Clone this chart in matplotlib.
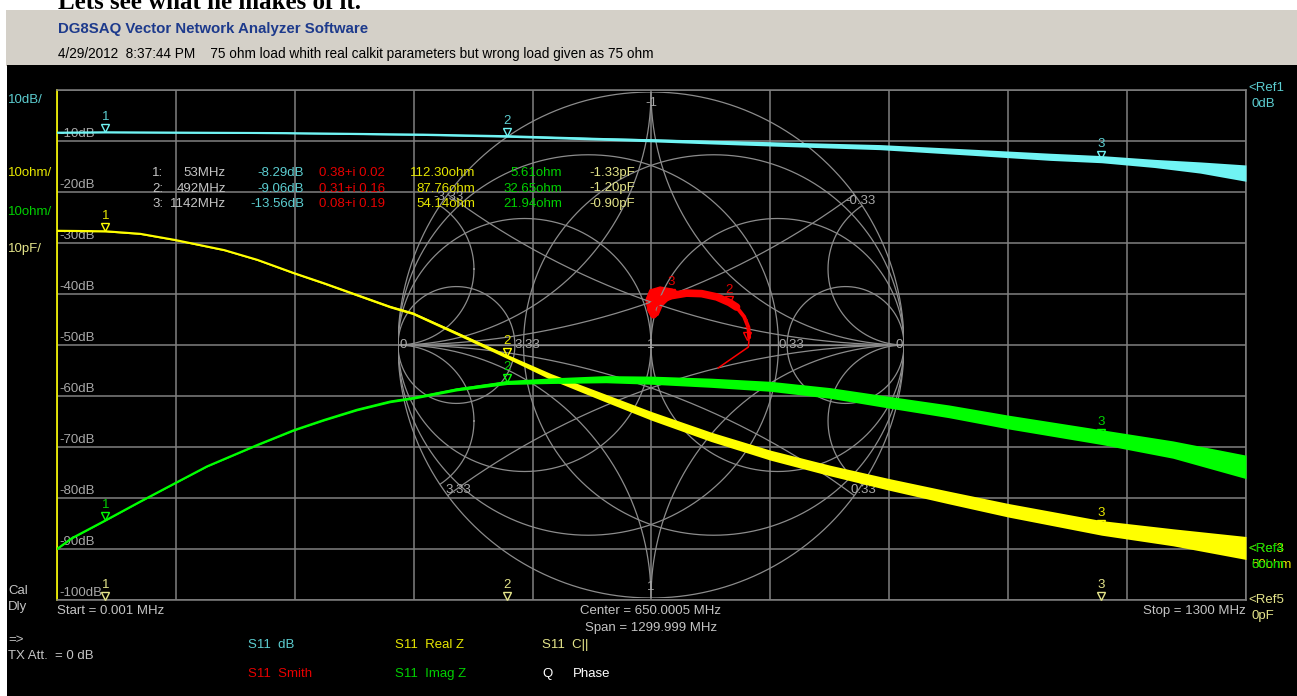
import numpy as np
import matplotlib.pyplot as plt
from matplotlib.patches import Rectangle, Circle, Polygon
from matplotlib.transforms import offset_copy

W, H = 1297, 696
plt.rcParams['font.family'] = ['Liberation Sans', 'DejaVu Sans']

# ---------------------------------------------------------------
# Sweep and traces (S11 of the 75 ohm load)
# ---------------------------------------------------------------
F_START, F_STOP = 0.001, 1300.0

db_freq = [0.001, 53, 250, 400, 492, 594, 650, 750, 900, 1000, 1086, 1142, 1200, 1250, 1300]
db_vals = [-8.37, -8.29, -8.45, -8.75, -9.06, -9.6, -9.86, -10.4, -11.2, -12.2, -13.1, -13.56, -14.4, -15.2, -16.3]
db_noise = [0.1, 0.1, 0.12, 0.16, 0.2, 0.24, 0.3, 0.4, 0.5, 0.6, 0.7, 0.7, 0.8, 1.1, 1.6]

re_freq = [0.001, 53, 91, 129, 183, 219, 259, 292, 328, 364, 389, 437, 492,
           540, 594, 650, 715, 780, 845, 909, 975, 1040, 1142, 1220, 1300]
re_vals = [112.4, 112.3, 111.8, 110.6, 108.6, 106.7, 104.1, 102.1, 99.8, 97.5, 96.2, 92.3, 87.76,
           83.8, 80.0, 76.1, 72.0, 68.4, 65.4, 62.7, 60.1, 57.6, 54.14, 52.3, 50.2]
re_noise = [0.12, 0.12, 0.12, 0.12, 0.12, 0.14, 0.16, 0.18, 0.2, 0.22, 0.24, 0.3, 0.4,
            0.6, 0.75, 0.85, 0.92, 0.98, 1.04, 1.14, 1.24, 1.33, 1.43, 1.67, 2.25]

im_freq = [0.001, 16, 53, 91, 129, 164, 219, 259, 292, 328, 364, 389, 437,
           492, 540, 600, 650, 715, 780, 845, 909, 975, 1040, 1142, 1220, 1300]
im_vals = [0.0, 2.1, 5.61, 9.3, 12.9, 16.2, 20.4, 23.3, 25.3, 27.3, 28.9, 29.6, 31.3,
           32.65, 33.0, 33.3, 33.1, 32.6, 31.9, 30.6, 28.8, 27.0, 24.9, 21.94, 19.5, 16.1]
im_noise = [0.12, 0.12, 0.12, 0.12, 0.12, 0.12, 0.14, 0.16, 0.18, 0.2, 0.22, 0.24, 0.3,
            0.4, 0.55, 0.7, 0.8, 0.9, 0.98, 1.05, 1.15, 1.25, 1.35, 1.45, 1.7, 2.3]

# reflection coefficient in the Smith chart
s11_re = [0.265, 0.385, 0.388, 0.385, 0.368, 0.338, 0.31, 0.26, 0.20, 0.14, 0.08, 0.04, 0.01, 0.0, 0.01]
s11_im = [-0.091, -0.008, 0.03, 0.07, 0.112, 0.150, 0.168, 0.19, 0.203, 0.205, 0.195, 0.18, 0.16, 0.14, 0.12]
# noisy cloud at the top end of the sweep
cloud_re = [-0.004, 0.036, 0.083, 0.115, 0.067, 0.043, 0.028, 0.008, -0.012, -0.020]
cloud_im = [0.217, 0.229, 0.221, 0.206, 0.178, 0.154, 0.119, 0.107, 0.138, 0.178]

# markers
mk_freq = [53, 492, 1142]
mk_db = [-8.29, -9.06, -13.56]
mk_g_re = [0.38, 0.31, 0.08]
mk_g_im = [0.02, 0.16, 0.19]
mk_re = [112.30, 87.76, 54.14]
mk_im = [5.61, 32.65, 21.94]
mk_cap = [-1.33, -1.20, -0.90]

smith_values = [0.33, 1.0, 3.33]

# colours
GRID = '#808080'
GREY_TXT = '#c4c4c4'
CY_LINE, CY_TXT = '#70f4f4', '#5ccdd0'
YE_LINE, YE_TXT = '#ffff00', '#e6e600'
GR_LINE, GR_TXT = '#00ff00', '#00d000'
RD_LINE, RD_TXT = '#ff0000', '#e60000'
CAP_TXT = '#e4e48a'
FS = 9.5


def box(x0, y0, x1, y1):
    return [x0 / W, 1 - y1 / H, (x1 - x0) / W, (y1 - y0) / H]


fig = plt.figure(figsize=(W / 100, H / 100), dpi=100, facecolor='white')

# window background
bg = fig.add_axes([0, 0, 1, 1], zorder=-5)
bg.set_xlim(0, W)
bg.set_ylim(H, 0)
bg.axis('off')
bg.add_patch(Rectangle((6, 10), W - 6, 56, facecolor='#d4d0c8', edgecolor='none'))
bg.add_patch(Rectangle((7, 65), W - 7, H - 65, facecolor='black', edgecolor='none'))

# rectangular grid
PLOT = box(57, 90, 1246, 600)
ax = fig.add_axes(PLOT, zorder=1)
ax.patch.set_alpha(0)
ax.set_xlim(F_START, F_STOP)
ax.set_ylim(-100, 0)
ax.set_xticks(np.linspace(F_START, F_STOP, 11))
ax.set_yticks(np.arange(-100, 1, 10))
ax.tick_params(length=0, labelbottom=False, labelleft=False)
ax.grid(True, color=GRID, lw=1.1)
for side in ['top', 'right', 'bottom']:
    ax.spines[side].set_color(GRID)
    ax.spines[side].set_linewidth(1.1)
ax.spines['left'].set_color(YE_LINE)
ax.spines['left'].set_linewidth(1.2)
lab_tr = offset_copy(ax.transData, fig=fig, x=2, y=1, units='dots')
for v in range(-10, -101, -10):
    ax.text(F_START, v, f'{v}dB', color='#a8a8a8', fontsize=FS, ha='left', va='bottom',
            transform=lab_tr)

# Smith chart
R_PX = 253
sm = fig.add_axes(box(651 - R_PX, 345 - R_PX, 651 + R_PX, 345 + R_PX), zorder=2)
sm.set_xlim(-1, 1)
sm.set_ylim(-1, 1)
sm.axis('off')
clip = Circle((0, 0), 1, transform=sm.transData)
t = np.linspace(0, 2 * np.pi, 1441)
kw = dict(color='#8c8c8c', lw=0.9)
sm.plot(np.cos(t), np.sin(t), **kw)
sm.plot([-1, 1], [0, 0], **kw)
for v in smith_values:
    c, rad = v / (1 + v), 1 / (1 + v)
    for s in (1, -1):
        ln, = sm.plot(s * c + rad * np.cos(t), rad * np.sin(t), **kw)
        ln.set_clip_path(clip)
        for k in (1, -1):
            ln, = sm.plot(s + np.cos(t) / v, k / v + np.sin(t) / v, **kw)
            ln.set_clip_path(clip)

for (gx, gy, s, ha) in [(-0.995, 0, '0', 'left'), (-0.538, 0, '3.33', 'left'), (0, 0, '1', 'center'),
                        (0.504, 0, '0.33', 'left'), (0.995, 0, '0', 'right')]:
    sm.text(gx, gy, s, color='#a8a8a8', fontsize=FS, ha=ha, va='center')
for (gx, gy, s) in [(0, 0.955, '-1'), (0, -0.955, '1'), (0.83, 0.57, '-0.33'),
                    (0.84, -0.575, '0.33'), (-0.76, -0.575, '3.33'), (-0.8, 0.585, '-3.33')]:
    sm.text(gx, gy, s, color='#a8a8a8', fontsize=FS, ha='center', va='center')

# S11 Smith trace
sm.plot(s11_re, s11_im, color=RD_LINE, lw=1.1, solid_capstyle='round')
sm.plot(s11_re[2:7], s11_im[2:7], color=RD_LINE, lw=2.8, solid_capstyle='round')
sm.plot(s11_re[5:], s11_im[5:], color=RD_LINE, lw=5.5, solid_capstyle='round')
sm.add_patch(Polygon(np.column_stack([cloud_re, cloud_im]), closed=True,
                     facecolor=RD_LINE, edgecolor=RD_LINE, lw=1))


def markers(a, xs, ys, color, txt_color):
    tri = offset_copy(a.transData, fig=fig, x=0, y=4.3, units='dots')
    a.plot(xs, ys, 'v', ms=6, mfc='none', mec=color, mew=1.0, transform=tri, clip_on=False)
    for i, (x, y) in enumerate(zip(xs, ys)):
        a.annotate(str(i + 1), (x, y), xytext=(0, 9), textcoords='offset pixels',
                   color=txt_color, fontsize=FS, ha='center', va='bottom', annotation_clip=False)


markers(sm, mk_g_re, mk_g_im, RD_LINE, RD_TXT)


def trace_axes(lo, hi, z):
    a = fig.add_axes(PLOT, zorder=z)
    a.patch.set_alpha(0)
    a.set_xlim(F_START, F_STOP)
    a.set_ylim(lo, hi)
    a.axis('off')
    return a


def trace(a, f, v, n, color):
    v, n = np.asarray(v), np.asarray(n)
    a.fill_between(f, v - n, v + n, color=color, lw=0)
    a.plot(f, v, color=color, lw=1.5)


ax_c = trace_axes(0, 100, 3)          # C|| 10pF/div, Ref5 0pF
ax_re = trace_axes(40, 140, 4)        # Real Z 10ohm/div, Ref3 50ohm
ax_im = trace_axes(-10, 90, 5)        # Imag Z 10ohm/div, Ref4 0ohm
ax_db = trace_axes(-100, 0, 6)        # dB 10dB/div, Ref1 0dB

trace(ax_re, re_freq, re_vals, re_noise, YE_LINE)
trace(ax_im, im_freq, im_vals, im_noise, GR_LINE)
trace(ax_db, db_freq, db_vals, db_noise, CY_LINE)

markers(ax_db, mk_freq, mk_db, CY_LINE, CY_TXT)
markers(ax_re, mk_freq, mk_re, YE_LINE, YE_TXT)
markers(ax_im, mk_freq, mk_im, GR_LINE, GR_TXT)
markers(ax_c, mk_freq, np.clip(mk_cap, 0, None), CAP_TXT, CAP_TXT)

# ---------------------------------------------------------------
# Texts around the diagram
# ---------------------------------------------------------------
scr = fig.add_axes([0, 0, 1, 1], zorder=10)
scr.set_xlim(0, W)
scr.set_ylim(H, 0)
scr.axis('off')
scr.patch.set_alpha(0)


def put(x, y, s, c, ha='left', size=FS, **kw):
    scr.text(x, y, s, color=c, ha=ha, va='center', fontsize=size, **kw)


scr.text(58, 9, 'Lets see what he makes of it.', fontsize=18, fontweight='bold',
         family='Liberation Serif', va='baseline', color='black')
put(58, 29, 'DG8SAQ Vector Network Analyzer Software', '#1d3a8c', size=10.8, fontweight='bold')
put(58, 54, '4/29/2012  8:37:44 PM    75 ohm load whith real calkit parameters but wrong load given as 75 ohm',
    'black', size=9.8)

put(8, 100, '10dB/', CY_TXT)
put(8, 173, '10ohm/', YE_TXT)
put(8, 212, '10ohm/', GR_TXT)
put(8, 249, '10pF/', CAP_TXT)
put(8, 591, 'Cal', GREY_TXT)
put(8, 607, 'Dly', GREY_TXT)

put(1248, 88, '<Ref1', CY_TXT)
put(1251, 104, '0dB', CY_TXT)
put(1248, 549, '<Ref3', YE_TXT)
put(1251, 565, '50ohm', YE_TXT)
put(1248, 549, '<Ref4', GR_TXT)
put(1251, 565, '0ohm', GR_TXT)
put(1248, 600, '<Ref5', CAP_TXT)
put(1251, 616, '0pF', CAP_TXT)

put(57, 611, f'Start = {F_START:g} MHz', GREY_TXT)
put(651, 611, f'Center = {(F_START + F_STOP) / 2:.4f} MHz', GREY_TXT, ha='center')
put(651, 628, f'Span = {F_STOP - F_START:.3f} MHz', GREY_TXT, ha='center')
put(1246, 611, f'Stop = {F_STOP:g} MHz', GREY_TXT, ha='right')

# marker readout table
for i, y in enumerate([173, 188.5, 204]):
    put(152, y, f'{i + 1}:', GREY_TXT)
    put(226, y, f'{mk_freq[i]}MHz', GREY_TXT, ha='right')
    put(304, y, f'{mk_db[i]:.2f}dB', CY_TXT, ha='right')
    put(319, y, f'{mk_g_re[i]:.2f}+i {mk_g_im[i]:.2f}', RD_TXT)
    put(475, y, f'{mk_re[i]:.2f}ohm', YE_TXT, ha='right')
    put(562, y, f'{mk_im[i]:.2f}ohm', GR_TXT, ha='right')
    put(635, y, f'{mk_cap[i]:.2f}pF', CAP_TXT, ha='right')

# trace legend
put(8, 640, '=>', GREY_TXT)
put(8, 656, 'TX Att.  = 0 dB', GREY_TXT)
put(248, 645, 'S11  dB', CY_TXT)
put(248, 674, 'S11  Smith', RD_TXT)
put(395, 645, 'S11  Real Z', YE_TXT)
put(395, 674, 'S11  Imag Z', GR_TXT)
put(542, 645, 'S11  C||', CAP_TXT)
put(542, 674, 'Q', 'white')
put(573, 674, 'Phase', 'white')

fig.savefig('out.png', dpi=100, facecolor=fig.get_facecolor())
